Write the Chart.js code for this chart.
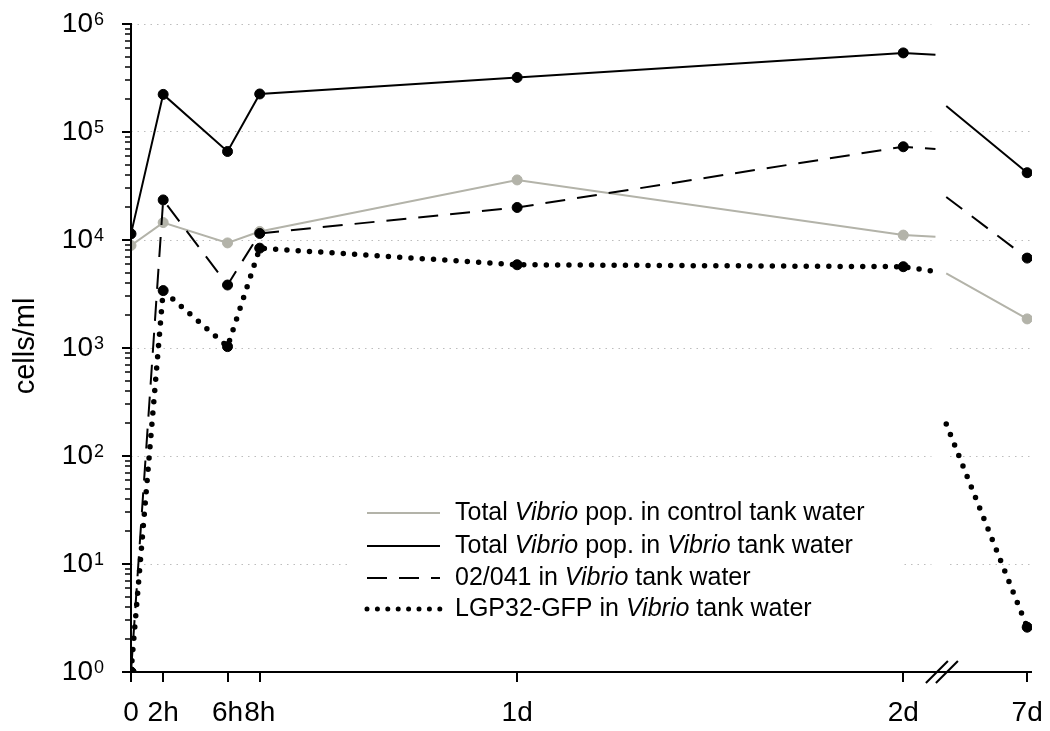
<!DOCTYPE html>
<html>
<head>
<meta charset="utf-8">
<script src="https://cdn.jsdelivr.net/npm/chart.js@4.4.0/dist/chart.umd.min.js"></script>
<style>
  html, body { margin: 0; padding: 0; background: #fff; }
  #wrap { width: 1050px; height: 731px; }
</style>
</head>
<body>
<div id="wrap"><canvas id="chart" width="1050" height="731"></canvas></div>
<script>
const FONT = '"Liberation Sans", Arial, sans-serif';

// time axis in hours; 7d is placed just after the axis break
const tickHours = [0, 2, 6, 8, 24, 48, 55.7];
const tickLabels = ['0', '2h', '6h', '8h', '1d', '2d', '7d'];
const sampleHours = [0, 2, 6, 8, 24, 48, 55.7];
const breakHours = [50.0, 50.67];   // where the lines stop / start again around the break
const axisBreakAt = 50.4;
const gridGap = [49.75, 50.65];

const yExponents = [0, 1, 2, 3, 4, 5, 6];
const yMinor = [2, 3, 4, 5, 6, 7, 8, 9];

// *...* = italic
const seriesNames = [
  'Total *Vibrio* pop. in control tank water',
  'Total *Vibrio* pop. in *Vibrio* tank water',
  '02/041 in *Vibrio* tank water',
  'LGP32-GFP in *Vibrio* tank water'
];

// cells/ml at sampleHours, and the two values at the ends of the break
const controlTotal = [8900, 14500, 9400, 12000, 36000, 11100, 1860];
const controlTotalBreak = [10700, 4900];
const vibrioTotal = [11400, 223000, 66000, 225000, 320000, 540000, 42000];
const vibrioTotalBreak = [520000, 174000];
const strain02041 = [1, 23500, 3830, 11500, 20000, 73000, 6800];
const strain02041Break = [69600, 25000];
const lgp32 = [1, 3400, 1030, 8400, 5900, 5660, 2.6];
const lgp32Break = [5100, 198];

const grey = '#b3b3a9';

function buildPoints(vals, brk) {
  const pts = [];
  for (let i = 0; i < 6; i++) pts.push({x: sampleHours[i], y: vals[i], m: true});
  pts.push({x: breakHours[0], y: brk[0], m: false});
  pts.push({x: axisBreakAt, y: null, m: false});
  pts.push({x: breakHours[1], y: brk[1], m: false});
  pts.push({x: sampleHours[6], y: vals[6], m: true});
  return pts;
}

function isMajor(v) {
  const l = Math.log10(v);
  return Math.abs(l - Math.round(l)) < 1e-9;
}

const common = {
  fill: false,
  tension: 0,
  spanGaps: false,
  pointRadius: c => (c.raw && c.raw.m ? 5 : 0),
  pointHoverRadius: c => (c.raw && c.raw.m ? 5 : 0),
  pointBorderWidth: 1
};

const datasets = [
  Object.assign({label: seriesNames[0], data: buildPoints(controlTotal, controlTotalBreak),
    borderColor: grey, backgroundColor: grey, pointBorderColor: grey, borderWidth: 2, order: 3}, common),
  Object.assign({label: seriesNames[1], data: buildPoints(vibrioTotal, vibrioTotalBreak),
    borderColor: '#000', backgroundColor: '#000', pointBorderColor: '#000', borderWidth: 2, order: 0}, common),
  Object.assign({label: seriesNames[2], data: buildPoints(strain02041, strain02041Break),
    borderColor: '#000', backgroundColor: '#000', pointBorderColor: '#000', borderWidth: 2,
    borderDash: [20, 12], order: 1}, common),
  Object.assign({label: seriesNames[3], data: buildPoints(lgp32, lgp32Break),
    borderColor: '#000', backgroundColor: '#000', pointBorderColor: '#000', borderWidth: 5.5,
    borderDash: [0, 11.3], borderCapStyle: 'round', order: 2}, common)
];

const decor = {
  id: 'decor',
  beforeDraw(chart) {
    const ctx = chart.ctx;
    ctx.save();
    ctx.fillStyle = '#fff';
    ctx.fillRect(0, 0, chart.width, chart.height);
    ctx.restore();
  },
  beforeDatasetsDraw(chart) {
    // gap in the grid lines at the axis break
    const ctx = chart.ctx, x = chart.scales.x, a = chart.chartArea;
    const g0 = x.getPixelForValue(gridGap[0]), g1 = x.getPixelForValue(gridGap[1]);
    ctx.save();
    ctx.fillStyle = '#fff';
    ctx.fillRect(g0, a.top - 3, g1 - g0, a.bottom - a.top);
    ctx.restore();
  },
  afterDraw(chart) {
    const ctx = chart.ctx, a = chart.chartArea, xs = chart.scales.x, ys = chart.scales.y;
    ctx.save();
    ctx.strokeStyle = '#000';
    ctx.fillStyle = '#000';

    // axis lines
    ctx.lineWidth = 2;
    ctx.beginPath();
    ctx.moveTo(a.left, a.top - 1);
    ctx.lineTo(a.left, a.bottom);
    ctx.lineTo(a.right, a.bottom);
    ctx.stroke();

    // y ticks (minor shorter) and labels 10^n
    ys.ticks.forEach(t => {
      const py = Math.round(ys.getPixelForValue(t.value));
      const major = isMajor(t.value);
      ctx.lineWidth = major ? 2 : 1.5;
      ctx.beginPath();
      ctx.moveTo(a.left - (major ? 9 : 6), py);
      ctx.lineTo(a.left, py);
      ctx.stroke();
      if (major) {
        const e = Math.round(Math.log10(t.value));
        ctx.font = '28px ' + FONT;
        ctx.textAlign = 'right';
        ctx.textBaseline = 'middle';
        ctx.fillText('10', 93, py);
        ctx.font = '18px ' + FONT;
        ctx.textAlign = 'left';
        ctx.textBaseline = 'alphabetic';
        ctx.fillText(String(e), 94, py + 1);
      }
    });

    // axis title
    ctx.save();
    ctx.translate(26, 346);
    ctx.rotate(-Math.PI / 2);
    ctx.font = '29px ' + FONT;
    ctx.textAlign = 'center';
    ctx.textBaseline = 'middle';
    ctx.fillText('cells/ml', 0, 0);
    ctx.restore();

    // axis break marks
    const bx = xs.getPixelForValue(axisBreakAt);
    ctx.lineWidth = 2;
    [-5, 5].forEach(off => {
      ctx.beginPath();
      ctx.moveTo(bx + off - 11, a.bottom + 11);
      ctx.lineTo(bx + off + 11, a.bottom - 11);
      ctx.stroke();
    });

    // legend
    ctx.fillStyle = '#fff';
    ctx.fillRect(350, 496, 553, 130);
    const rows = [513, 546, 578, 609];
    chart.data.datasets.forEach((ds, i) => {
      const y = rows[i];
      ctx.save();
      ctx.strokeStyle = ds.borderColor;
      ctx.lineWidth = Math.min(ds.borderWidth, 5);
      ctx.setLineDash(ds.borderDash ? ds.borderDash.map(d => d ? d : 0) : []);
      if (ds.borderCapStyle === 'round') ctx.setLineDash([0, 10.4]);
      ctx.lineCap = ds.borderCapStyle || 'butt';
      ctx.beginPath();
      ctx.moveTo(367, y);
      ctx.lineTo(440, y);
      ctx.stroke();
      ctx.restore();

      let tx = 455;
      ctx.fillStyle = '#000';
      ctx.textAlign = 'left';
      ctx.textBaseline = 'middle';
      ds.label.split('*').forEach((seg, k) => {
        ctx.font = (k % 2 ? 'italic ' : '') + '25px ' + FONT;
        ctx.fillText(seg, tx, y);
        tx += ctx.measureText(seg).width;
      });
    });
    ctx.restore();
  }
};

new Chart(document.getElementById('chart'), {
  type: 'line',
  data: {datasets},
  options: {
    responsive: false,
    animation: false,
    devicePixelRatio: 1,
    layout: {padding: {top: 24, right: 18, left: 0, bottom: 0}},
    plugins: {legend: {display: false}, tooltip: {enabled: false}},
    scales: {
      x: {
        type: 'linear',
        min: 0,
        max: 56,
        afterBuildTicks: s => { s.ticks = tickHours.map(v => ({value: v})); },
        afterFit: s => { s.height = 59; s.paddingLeft = 0; s.paddingRight = 0; },
        ticks: {
          autoSkip: false, maxRotation: 0, minRotation: 0, padding: 14, color: '#000',
          font: {family: FONT, size: 28},
          callback: (v, i) => tickLabels[i]
        },
        grid: {display: true, drawOnChartArea: false, drawTicks: true, tickLength: 10,
          tickColor: '#000', tickWidth: 2, color: '#000', lineWidth: 2},
        border: {display: false}
      },
      y: {
        type: 'logarithmic',
        min: 1,
        max: 1e6,
        afterBuildTicks: s => {
          const t = [];
          yExponents.forEach(e => {
            t.push({value: Math.pow(10, e)});
            if (e < yExponents[yExponents.length - 1]) yMinor.forEach(m => t.push({value: m * Math.pow(10, e)}));
          });
          s.ticks = t;
        },
        afterFit: s => { s.width = 131; s.paddingTop = 0; s.paddingBottom = 0; },
        ticks: {display: false},
        grid: {drawTicks: false, lineWidth: 1,
          color: c => (c.tick && isMajor(c.tick.value) ? '#bdbdbd' : 'rgba(0,0,0,0)')},
        border: {display: false, dash: [1.5, 5]}
      }
    }
  },
  plugins: [decor]
});
</script>
</body>
</html>
